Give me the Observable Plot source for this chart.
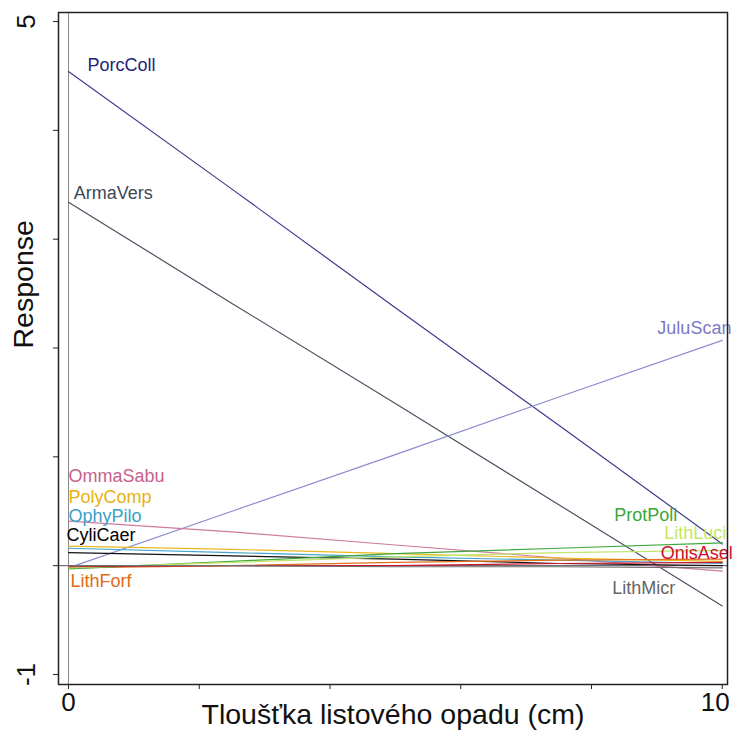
<!DOCTYPE html>
<html>
<head>
<meta charset="utf-8">
<script src="https://cdn.jsdelivr.net/npm/d3@7"></script>
<script src="https://cdn.jsdelivr.net/npm/@observablehq/plot@0.6"></script>
<style>
  html, body { margin: 0; padding: 0; background: #fff; }
  #chart { width: 734px; height: 737px; }
</style>
</head>
<body>
<div id="chart"></div>
<script>
// Litter thickness (cm) at which responses were read
const xs = [0, 2.5, 5, 7.5, 10];

const species = ["PorcColl","ArmaVers","JuluScan","OmmaSabu","PolyComp","OphyPilo","CyliCaer","LithForf","ProtPoli","LithLuci","OnisAsel","LithMicr"];

const PorcColl = [4.54, 3.46, 2.37, 1.29, 0.20];
const ArmaVers = [3.34, 2.41, 1.49, 0.56, -0.37];
const JuluScan = [-0.02, 0.50, 1.02, 1.55, 2.07];
const OmmaSabu = [0.41, 0.31, 0.19, 0.07, -0.05];
const PolyComp = [0.18, 0.15, 0.11, 0.07, 0.04];
const OphyPilo = [0.16, 0.12, 0.08, 0.05, 0.02];
const CyliCaer = [0.12, 0.09, 0.06, 0.02, 0.00];
const LithForf = [-0.02, 0.00, 0.03, 0.05, 0.06];
const ProtPoli = [-0.03, 0.04, 0.11, 0.16, 0.21];
const LithLuci = [-0.02, 0.03, 0.08, 0.12, 0.14];
const OnisAsel = [-0.01, 0.00, 0.00, 0.02, 0.03];
const LithMicr = [0.00, 0.00, -0.01, -0.01, -0.02];

const seriesValues = [PorcColl, ArmaVers, JuluScan, OmmaSabu, PolyComp, OphyPilo, CyliCaer, LithForf, ProtPoli, LithLuci, OnisAsel, LithMicr];

const lineColors = ["#3b3b8e","#4a5360","#8c8cd0","#cf7aa0","#eab820","#45a5cc","#111111","#e2701e","#3da83d","#c2e46a","#c8142e","#707070"];
const labelColors = ["#22227a","#3c4755","#7a7ac4","#c8608c","#eab010","#3aa0c8","#000000","#e06a16","#38a838","#c4e860","#c8102e","#666666"];

// label anchor positions (data units) and alignment
const labelX = [0.29, 0.08, 10.14, 0.0, 0.0, 0.0, -0.03, 0.03, 9.31, 10.06, 10.16, 9.28];
const labelY = [4.60, 3.42, 2.18, 0.82, 0.63, 0.455, 0.28, -0.14, 0.46, 0.30, 0.11, -0.21];
const labelAnchor = ["start","start","end","start","start","start","start","start","end","end","end","end"];

const xTicks = [0, 2, 4, 6, 8, 10];
const xTickLabelPos = [0, 10];
const xTickLabels = ["0", "10"];
const yTicks = [-1, 0, 1, 2, 3, 4, 5];
const yTickLabels = ["-1", "", "", "", "", "", "5"];

const rows = [];
species.forEach((s, i) => {
  seriesValues[i].forEach((v, j) => rows.push({species: s, x: xs[j], y: v, color: lineColors[i]}));
});
const labels = species.map((s, i) => ({species: s, x: labelX[i], y: labelY[i], anchor: labelAnchor[i], color: labelColors[i]}));
const xLab = xTickLabelPos.map((x, i) => ({x, t: xTickLabels[i]}));

const font = "Liberation Sans, Arial, sans-serif";

const chart = Plot.plot({
  width: 734,
  height: 737,
  marginLeft: 58,
  marginRight: 7,
  marginTop: 12,
  marginBottom: 53,
  style: {fontFamily: font, background: "#fff", overflow: "visible"},
  x: {domain: [-0.153, 10.08]},
  y: {domain: [-1.092, 5.083]},
  marks: [
    Plot.ruleX([0], {stroke: "#888", strokeWidth: 1}),
    Plot.ruleY([0], {stroke: "#555", strokeWidth: 1}),
    Plot.line(rows, {x: "x", y: "y", z: "species", stroke: "color", strokeWidth: 1.2}),
    Plot.text(labels.filter(d => d.anchor === "start"), {x: "x", y: "y", text: "species", fill: "color", textAnchor: "start", fontSize: 18, fontFamily: font}),
    Plot.text(labels.filter(d => d.anchor === "end"), {x: "x", y: "y", text: "species", fill: "color", textAnchor: "end", fontSize: 18, fontFamily: font}),
    Plot.frame({stroke: "#222", strokeWidth: 1.5}),
    Plot.axisX({ticks: xTicks, tickFormat: () => "", tickSize: 5, label: null, stroke: "#222"}),
    Plot.text(xLab.slice(0, 1), {x: "x", text: "t", frameAnchor: "bottom", dy: 26, fontSize: 26, fill: "#111", fontFamily: font}),
    Plot.text(xLab.slice(1), {x: "x", text: "t", frameAnchor: "bottom", dy: 26, dx: -7, fontSize: 26, fill: "#111", fontFamily: font}),
    Plot.axisY({ticks: yTicks, tickFormat: (d, i) => yTickLabels[i], tickSize: 5, tickPadding: 19, tickRotate: -90, fontSize: 26, label: null, stroke: "#222", fill: "#111"}),
    Plot.text(["Tloušťka listového opadu (cm)"], {frameAnchor: "bottom", dy: 39, fontSize: 28.5, fill: "#111", fontFamily: font}),
    Plot.text(["Response"], {frameAnchor: "left", dx: -35, rotate: -90, fontSize: 28.5, fill: "#111", fontFamily: font})
  ]
});
document.getElementById("chart").appendChild(chart);
</script>
</body>
</html>
